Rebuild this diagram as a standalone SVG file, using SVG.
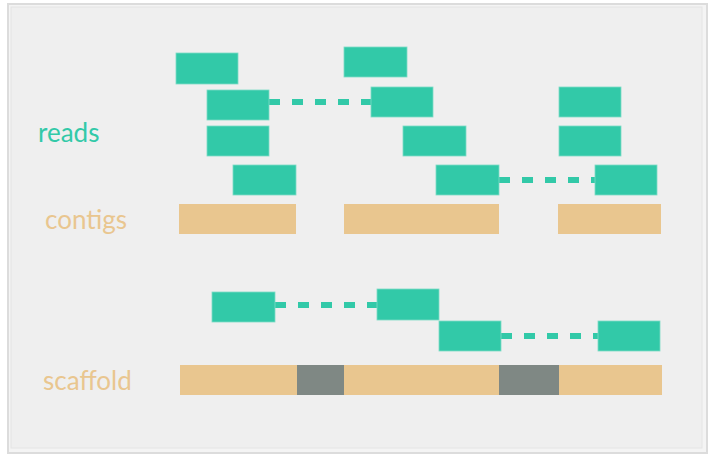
<svg xmlns="http://www.w3.org/2000/svg" width="725" height="464" viewBox="0 0 725 464">
<style>
.read{fill:#32c9a8;stroke:#7ddcc6;stroke-width:0.8}
.contig{fill:#e9c68f}
.gap{fill:#7f8884}
.link{stroke:#32c9a8;stroke-width:6;stroke-dasharray:11 12;fill:none}
.lbl{font-family:Lato,"Open Sans",sans-serif;font-size:26px}
</style>
<rect x="0" y="0" width="725" height="464" fill="#ffffff"/>
<rect x="8" y="4" width="699" height="449" fill="#f4f4f4" stroke="#dcdcdc" stroke-width="2"/>
<rect x="11" y="7" width="691" height="441" fill="#efefef" stroke="#e4e4e4" stroke-width="1"/>
<g id="connectors">
<line class="link" x1="269" y1="102" x2="371" y2="102"/>
<line class="link" x1="499" y1="180" x2="595" y2="180"/>
<line class="link" x1="275" y1="305" x2="377" y2="305"/>
<line class="link" x1="501" y1="336" x2="598" y2="336"/>
</g>
<g id="labels">
<text class="lbl" x="38" y="142" fill="#32c9a8">reads</text>
<text class="lbl" x="45" y="229" fill="#e9c68f">contigs</text>
<text class="lbl" x="43" y="390" fill="#e9c68f">scaffold</text>
</g>
<g id="read1"><rect class="read" x="176" y="53" width="62" height="31"/></g>
<g id="read2"><rect class="read" x="207" y="90" width="62" height="30"/></g>
<g id="read3"><rect class="read" x="207" y="126" width="62" height="30"/></g>
<g id="read4"><rect class="read" x="233" y="165" width="63" height="30"/></g>
<g id="read5"><rect class="read" x="344" y="47" width="63" height="30"/></g>
<g id="read6"><rect class="read" x="371" y="87" width="62" height="30"/></g>
<g id="read7"><rect class="read" x="403" y="126" width="63" height="30"/></g>
<g id="read8"><rect class="read" x="436" y="165" width="63" height="30"/></g>
<g id="read9"><rect class="read" x="559" y="87" width="62" height="30"/></g>
<g id="read10"><rect class="read" x="559" y="126" width="62" height="30"/></g>
<g id="read11"><rect class="read" x="595" y="165" width="62" height="30"/></g>
<g id="contig1"><rect class="contig" x="179" y="204" width="117" height="30"/></g>
<g id="contig2"><rect class="contig" x="344" y="204" width="155" height="30"/></g>
<g id="contig3"><rect class="contig" x="558" y="204" width="103" height="30"/></g>
<g id="read12"><rect class="read" x="212" y="292" width="63" height="30"/></g>
<g id="read13"><rect class="read" x="377" y="289" width="62" height="31"/></g>
<g id="read14"><rect class="read" x="439" y="321" width="62" height="30"/></g>
<g id="read15"><rect class="read" x="598" y="321" width="62" height="30"/></g>
<g id="scaffold">
<rect class="contig" x="180" y="365" width="117" height="30"/>
<rect class="gap" x="297" y="365" width="47" height="30"/>
<rect class="contig" x="344" y="365" width="155" height="30"/>
<rect class="gap" x="499" y="365" width="60" height="30"/>
<rect class="contig" x="559" y="365" width="103" height="30"/>
</g>
</svg>
